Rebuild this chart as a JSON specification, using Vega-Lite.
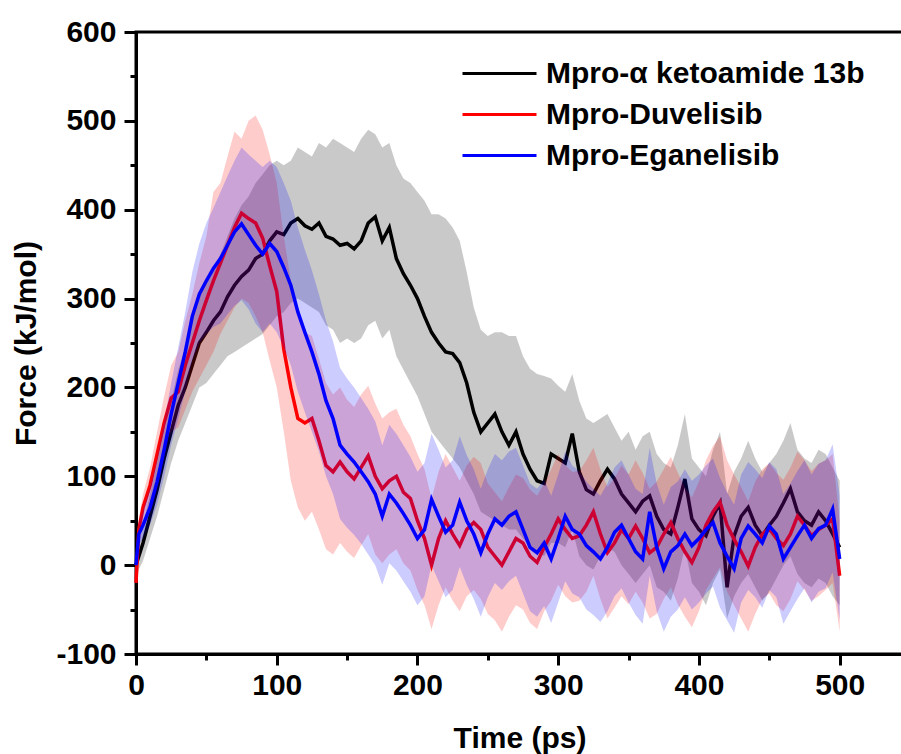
{
  "$schema": "https://vega.github.io/schema/vega-lite/v6.json",
  "width": 767,
  "height": 622,
  "autosize": {"type": "none"},
  "padding": {"left": 136, "top": 32, "right": 0, "bottom": 100},
  "background": "white",
  "config": {
    "view": {"stroke": "black", "strokeWidth": 3},
    "axis": {"domainColor": "black", "domainWidth": 3, "tickColor": "black", "tickWidth": 3, "labelFont": "Liberation Sans", "labelFontWeight": "bold", "labelFontSize": 30, "labelColor": "black", "titleFont": "Liberation Sans", "titleFontWeight": "bold", "titleFontSize": 30, "titleColor": "black", "grid": false, "labelOverlap": false, "labelFlush": false},
    "legend": {"labelFont": "Liberation Sans", "labelFontWeight": "bold", "labelFontSize": 30, "labelColor": "black", "labelLimit": 0}
  },
  "resolve": {"axis": {"x": "independent", "y": "independent"}},
  "datasets": {
    "force": [
      {"s":"Mpro-α ketoamide 13b","t":0,"f":0,"lo":-15,"hi":15},
      {"s":"Mpro-α ketoamide 13b","t":2,"f":10,"lo":-5,"hi":25},
      {"s":"Mpro-α ketoamide 13b","t":5,"f":25,"lo":5,"hi":45},
      {"s":"Mpro-α ketoamide 13b","t":10,"f":55,"lo":30,"hi":80},
      {"s":"Mpro-α ketoamide 13b","t":15,"f":85,"lo":55,"hi":115},
      {"s":"Mpro-α ketoamide 13b","t":20,"f":120,"lo":85,"hi":150},
      {"s":"Mpro-α ketoamide 13b","t":25,"f":150,"lo":115,"hi":185},
      {"s":"Mpro-α ketoamide 13b","t":30,"f":180,"lo":140,"hi":220},
      {"s":"Mpro-α ketoamide 13b","t":35,"f":200,"lo":160,"hi":245},
      {"s":"Mpro-α ketoamide 13b","t":40,"f":225,"lo":180,"hi":275},
      {"s":"Mpro-α ketoamide 13b","t":45,"f":250,"lo":200,"hi":300},
      {"s":"Mpro-α ketoamide 13b","t":50,"f":262,"lo":205,"hi":320},
      {"s":"Mpro-α ketoamide 13b","t":55,"f":275,"lo":215,"hi":335},
      {"s":"Mpro-α ketoamide 13b","t":60,"f":285,"lo":225,"hi":350},
      {"s":"Mpro-α ketoamide 13b","t":65,"f":302,"lo":235,"hi":370},
      {"s":"Mpro-α ketoamide 13b","t":70,"f":315,"lo":240,"hi":390},
      {"s":"Mpro-α ketoamide 13b","t":75,"f":325,"lo":245,"hi":405},
      {"s":"Mpro-α ketoamide 13b","t":80,"f":332,"lo":250,"hi":415},
      {"s":"Mpro-α ketoamide 13b","t":85,"f":345,"lo":255,"hi":430},
      {"s":"Mpro-α ketoamide 13b","t":90,"f":350,"lo":260,"hi":440},
      {"s":"Mpro-α ketoamide 13b","t":95,"f":365,"lo":270,"hi":450},
      {"s":"Mpro-α ketoamide 13b","t":100,"f":375,"lo":280,"hi":455},
      {"s":"Mpro-α ketoamide 13b","t":105,"f":372,"lo":285,"hi":450},
      {"s":"Mpro-α ketoamide 13b","t":110,"f":385,"lo":295,"hi":455},
      {"s":"Mpro-α ketoamide 13b","t":115,"f":390,"lo":300,"hi":470},
      {"s":"Mpro-α ketoamide 13b","t":120,"f":382,"lo":295,"hi":465},
      {"s":"Mpro-α ketoamide 13b","t":125,"f":378,"lo":290,"hi":460},
      {"s":"Mpro-α ketoamide 13b","t":130,"f":385,"lo":285,"hi":475},
      {"s":"Mpro-α ketoamide 13b","t":135,"f":370,"lo":270,"hi":470},
      {"s":"Mpro-α ketoamide 13b","t":140,"f":367,"lo":265,"hi":480},
      {"s":"Mpro-α ketoamide 13b","t":145,"f":360,"lo":250,"hi":475},
      {"s":"Mpro-α ketoamide 13b","t":150,"f":362,"lo":255,"hi":470},
      {"s":"Mpro-α ketoamide 13b","t":155,"f":356,"lo":250,"hi":465},
      {"s":"Mpro-α ketoamide 13b","t":160,"f":365,"lo":255,"hi":480},
      {"s":"Mpro-α ketoamide 13b","t":165,"f":385,"lo":270,"hi":490},
      {"s":"Mpro-α ketoamide 13b","t":170,"f":392,"lo":275,"hi":485},
      {"s":"Mpro-α ketoamide 13b","t":175,"f":365,"lo":255,"hi":470},
      {"s":"Mpro-α ketoamide 13b","t":180,"f":380,"lo":265,"hi":475},
      {"s":"Mpro-α ketoamide 13b","t":185,"f":345,"lo":235,"hi":450},
      {"s":"Mpro-α ketoamide 13b","t":190,"f":328,"lo":220,"hi":435},
      {"s":"Mpro-α ketoamide 13b","t":195,"f":315,"lo":205,"hi":430},
      {"s":"Mpro-α ketoamide 13b","t":200,"f":300,"lo":190,"hi":420},
      {"s":"Mpro-α ketoamide 13b","t":205,"f":280,"lo":170,"hi":410},
      {"s":"Mpro-α ketoamide 13b","t":210,"f":262,"lo":150,"hi":395},
      {"s":"Mpro-α ketoamide 13b","t":215,"f":250,"lo":140,"hi":395},
      {"s":"Mpro-α ketoamide 13b","t":220,"f":240,"lo":130,"hi":390},
      {"s":"Mpro-α ketoamide 13b","t":225,"f":238,"lo":120,"hi":380},
      {"s":"Mpro-α ketoamide 13b","t":230,"f":228,"lo":110,"hi":365},
      {"s":"Mpro-α ketoamide 13b","t":235,"f":205,"lo":95,"hi":330},
      {"s":"Mpro-α ketoamide 13b","t":240,"f":172,"lo":80,"hi":290},
      {"s":"Mpro-α ketoamide 13b","t":245,"f":150,"lo":60,"hi":265},
      {"s":"Mpro-α ketoamide 13b","t":250,"f":160,"lo":55,"hi":258},
      {"s":"Mpro-α ketoamide 13b","t":255,"f":170,"lo":50,"hi":262},
      {"s":"Mpro-α ketoamide 13b","t":260,"f":150,"lo":45,"hi":262},
      {"s":"Mpro-α ketoamide 13b","t":265,"f":135,"lo":40,"hi":258},
      {"s":"Mpro-α ketoamide 13b","t":270,"f":150,"lo":40,"hi":258},
      {"s":"Mpro-α ketoamide 13b","t":275,"f":125,"lo":30,"hi":235},
      {"s":"Mpro-α ketoamide 13b","t":280,"f":108,"lo":20,"hi":221},
      {"s":"Mpro-α ketoamide 13b","t":285,"f":95,"lo":15,"hi":215},
      {"s":"Mpro-α ketoamide 13b","t":290,"f":92,"lo":10,"hi":213},
      {"s":"Mpro-α ketoamide 13b","t":295,"f":125,"lo":25,"hi":210},
      {"s":"Mpro-α ketoamide 13b","t":300,"f":120,"lo":25,"hi":202},
      {"s":"Mpro-α ketoamide 13b","t":305,"f":115,"lo":20,"hi":195},
      {"s":"Mpro-α ketoamide 13b","t":310,"f":148,"lo":40,"hi":215},
      {"s":"Mpro-α ketoamide 13b","t":315,"f":105,"lo":10,"hi":185},
      {"s":"Mpro-α ketoamide 13b","t":320,"f":85,"lo":0,"hi":165},
      {"s":"Mpro-α ketoamide 13b","t":325,"f":80,"lo":-5,"hi":160},
      {"s":"Mpro-α ketoamide 13b","t":330,"f":95,"lo":10,"hi":165},
      {"s":"Mpro-α ketoamide 13b","t":335,"f":108,"lo":20,"hi":170},
      {"s":"Mpro-α ketoamide 13b","t":340,"f":97,"lo":15,"hi":155},
      {"s":"Mpro-α ketoamide 13b","t":345,"f":80,"lo":0,"hi":140},
      {"s":"Mpro-α ketoamide 13b","t":350,"f":70,"lo":-10,"hi":150},
      {"s":"Mpro-α ketoamide 13b","t":355,"f":60,"lo":-20,"hi":130},
      {"s":"Mpro-α ketoamide 13b","t":360,"f":72,"lo":-10,"hi":145},
      {"s":"Mpro-α ketoamide 13b","t":365,"f":78,"lo":0,"hi":150},
      {"s":"Mpro-α ketoamide 13b","t":370,"f":55,"lo":-25,"hi":125},
      {"s":"Mpro-α ketoamide 13b","t":375,"f":40,"lo":-30,"hi":115},
      {"s":"Mpro-α ketoamide 13b","t":380,"f":35,"lo":-40,"hi":110},
      {"s":"Mpro-α ketoamide 13b","t":385,"f":65,"lo":-15,"hi":135},
      {"s":"Mpro-α ketoamide 13b","t":390,"f":97,"lo":20,"hi":170},
      {"s":"Mpro-α ketoamide 13b","t":395,"f":52,"lo":-20,"hi":120},
      {"s":"Mpro-α ketoamide 13b","t":400,"f":40,"lo":-30,"hi":110},
      {"s":"Mpro-α ketoamide 13b","t":405,"f":33,"lo":-45,"hi":100},
      {"s":"Mpro-α ketoamide 13b","t":410,"f":55,"lo":-20,"hi":130},
      {"s":"Mpro-α ketoamide 13b","t":415,"f":70,"lo":-5,"hi":150},
      {"s":"Mpro-α ketoamide 13b","t":420,"f":-25,"lo":-60,"hi":80},
      {"s":"Mpro-α ketoamide 13b","t":425,"f":33,"lo":-35,"hi":105},
      {"s":"Mpro-α ketoamide 13b","t":430,"f":55,"lo":-20,"hi":120},
      {"s":"Mpro-α ketoamide 13b","t":435,"f":65,"lo":-10,"hi":140},
      {"s":"Mpro-α ketoamide 13b","t":440,"f":45,"lo":-25,"hi":120},
      {"s":"Mpro-α ketoamide 13b","t":445,"f":33,"lo":-40,"hi":105},
      {"s":"Mpro-α ketoamide 13b","t":450,"f":45,"lo":-30,"hi":115},
      {"s":"Mpro-α ketoamide 13b","t":455,"f":55,"lo":-15,"hi":125},
      {"s":"Mpro-α ketoamide 13b","t":460,"f":70,"lo":0,"hi":140},
      {"s":"Mpro-α ketoamide 13b","t":465,"f":86,"lo":10,"hi":160},
      {"s":"Mpro-α ketoamide 13b","t":470,"f":60,"lo":-10,"hi":130},
      {"s":"Mpro-α ketoamide 13b","t":475,"f":50,"lo":-20,"hi":120},
      {"s":"Mpro-α ketoamide 13b","t":480,"f":45,"lo":-25,"hi":115},
      {"s":"Mpro-α ketoamide 13b","t":485,"f":60,"lo":-15,"hi":130},
      {"s":"Mpro-α ketoamide 13b","t":490,"f":50,"lo":-20,"hi":125},
      {"s":"Mpro-α ketoamide 13b","t":495,"f":35,"lo":-35,"hi":110},
      {"s":"Mpro-α ketoamide 13b","t":500,"f":20,"lo":-45,"hi":95},
      {"s":"Mpro-Duvelisib","t":0,"f":-20,"lo":-30,"hi":-10},
      {"s":"Mpro-Duvelisib","t":2,"f":40,"lo":28,"hi":52},
      {"s":"Mpro-Duvelisib","t":5,"f":65,"lo":50,"hi":80},
      {"s":"Mpro-Duvelisib","t":10,"f":90,"lo":70,"hi":110},
      {"s":"Mpro-Duvelisib","t":15,"f":125,"lo":100,"hi":150},
      {"s":"Mpro-Duvelisib","t":20,"f":160,"lo":130,"hi":190},
      {"s":"Mpro-Duvelisib","t":25,"f":188,"lo":150,"hi":225},
      {"s":"Mpro-Duvelisib","t":30,"f":195,"lo":155,"hi":240},
      {"s":"Mpro-Duvelisib","t":35,"f":225,"lo":175,"hi":275},
      {"s":"Mpro-Duvelisib","t":40,"f":250,"lo":195,"hi":305},
      {"s":"Mpro-Duvelisib","t":45,"f":275,"lo":210,"hi":340},
      {"s":"Mpro-Duvelisib","t":50,"f":298,"lo":225,"hi":370},
      {"s":"Mpro-Duvelisib","t":55,"f":320,"lo":240,"hi":420},
      {"s":"Mpro-Duvelisib","t":60,"f":340,"lo":260,"hi":430},
      {"s":"Mpro-Duvelisib","t":65,"f":360,"lo":275,"hi":460},
      {"s":"Mpro-Duvelisib","t":70,"f":380,"lo":290,"hi":488},
      {"s":"Mpro-Duvelisib","t":75,"f":396,"lo":300,"hi":480},
      {"s":"Mpro-Duvelisib","t":80,"f":390,"lo":295,"hi":500},
      {"s":"Mpro-Duvelisib","t":85,"f":385,"lo":280,"hi":506},
      {"s":"Mpro-Duvelisib","t":90,"f":368,"lo":262,"hi":490},
      {"s":"Mpro-Duvelisib","t":95,"f":337,"lo":230,"hi":462},
      {"s":"Mpro-Duvelisib","t":100,"f":308,"lo":200,"hi":430},
      {"s":"Mpro-Duvelisib","t":105,"f":243,"lo":150,"hi":370},
      {"s":"Mpro-Duvelisib","t":110,"f":200,"lo":95,"hi":320},
      {"s":"Mpro-Duvelisib","t":115,"f":165,"lo":65,"hi":280},
      {"s":"Mpro-Duvelisib","t":120,"f":160,"lo":50,"hi":262},
      {"s":"Mpro-Duvelisib","t":125,"f":165,"lo":60,"hi":258},
      {"s":"Mpro-Duvelisib","t":130,"f":140,"lo":40,"hi":232},
      {"s":"Mpro-Duvelisib","t":135,"f":112,"lo":18,"hi":205},
      {"s":"Mpro-Duvelisib","t":140,"f":105,"lo":12,"hi":192},
      {"s":"Mpro-Duvelisib","t":145,"f":116,"lo":25,"hi":200},
      {"s":"Mpro-Duvelisib","t":150,"f":105,"lo":15,"hi":186},
      {"s":"Mpro-Duvelisib","t":155,"f":97,"lo":8,"hi":178},
      {"s":"Mpro-Duvelisib","t":160,"f":110,"lo":22,"hi":192},
      {"s":"Mpro-Duvelisib","t":165,"f":123,"lo":35,"hi":202},
      {"s":"Mpro-Duvelisib","t":170,"f":100,"lo":12,"hi":182},
      {"s":"Mpro-Duvelisib","t":175,"f":86,"lo":2,"hi":165},
      {"s":"Mpro-Duvelisib","t":180,"f":95,"lo":12,"hi":172},
      {"s":"Mpro-Duvelisib","t":185,"f":100,"lo":18,"hi":176},
      {"s":"Mpro-Duvelisib","t":190,"f":82,"lo":2,"hi":158},
      {"s":"Mpro-Duvelisib","t":195,"f":75,"lo":-6,"hi":145},
      {"s":"Mpro-Duvelisib","t":200,"f":50,"lo":-28,"hi":125},
      {"s":"Mpro-Duvelisib","t":205,"f":30,"lo":-45,"hi":108},
      {"s":"Mpro-Duvelisib","t":210,"f":0,"lo":-72,"hi":75},
      {"s":"Mpro-Duvelisib","t":215,"f":30,"lo":-45,"hi":105},
      {"s":"Mpro-Duvelisib","t":220,"f":50,"lo":-25,"hi":125},
      {"s":"Mpro-Duvelisib","t":225,"f":35,"lo":-40,"hi":110},
      {"s":"Mpro-Duvelisib","t":230,"f":22,"lo":-52,"hi":95},
      {"s":"Mpro-Duvelisib","t":235,"f":40,"lo":-35,"hi":112},
      {"s":"Mpro-Duvelisib","t":240,"f":48,"lo":-28,"hi":122},
      {"s":"Mpro-Duvelisib","t":245,"f":40,"lo":-38,"hi":115},
      {"s":"Mpro-Duvelisib","t":250,"f":20,"lo":-55,"hi":92},
      {"s":"Mpro-Duvelisib","t":255,"f":10,"lo":-62,"hi":82},
      {"s":"Mpro-Duvelisib","t":260,"f":0,"lo":-75,"hi":72},
      {"s":"Mpro-Duvelisib","t":265,"f":15,"lo":-58,"hi":88},
      {"s":"Mpro-Duvelisib","t":270,"f":30,"lo":-45,"hi":102},
      {"s":"Mpro-Duvelisib","t":275,"f":25,"lo":-50,"hi":98},
      {"s":"Mpro-Duvelisib","t":280,"f":10,"lo":-65,"hi":85},
      {"s":"Mpro-Duvelisib","t":285,"f":3,"lo":-72,"hi":78},
      {"s":"Mpro-Duvelisib","t":290,"f":20,"lo":-52,"hi":92},
      {"s":"Mpro-Duvelisib","t":295,"f":35,"lo":-40,"hi":108},
      {"s":"Mpro-Duvelisib","t":300,"f":52,"lo":-22,"hi":125},
      {"s":"Mpro-Duvelisib","t":305,"f":40,"lo":-35,"hi":112},
      {"s":"Mpro-Duvelisib","t":310,"f":30,"lo":-42,"hi":105},
      {"s":"Mpro-Duvelisib","t":315,"f":33,"lo":-40,"hi":106},
      {"s":"Mpro-Duvelisib","t":320,"f":45,"lo":-30,"hi":118},
      {"s":"Mpro-Duvelisib","t":325,"f":60,"lo":-12,"hi":132},
      {"s":"Mpro-Duvelisib","t":330,"f":35,"lo":-38,"hi":108},
      {"s":"Mpro-Duvelisib","t":335,"f":14,"lo":-60,"hi":88},
      {"s":"Mpro-Duvelisib","t":340,"f":25,"lo":-48,"hi":98},
      {"s":"Mpro-Duvelisib","t":345,"f":40,"lo":-35,"hi":112},
      {"s":"Mpro-Duvelisib","t":350,"f":30,"lo":-44,"hi":102},
      {"s":"Mpro-Duvelisib","t":355,"f":44,"lo":-30,"hi":118},
      {"s":"Mpro-Duvelisib","t":360,"f":30,"lo":-42,"hi":104},
      {"s":"Mpro-Duvelisib","t":365,"f":14,"lo":-60,"hi":86},
      {"s":"Mpro-Duvelisib","t":370,"f":20,"lo":-55,"hi":94},
      {"s":"Mpro-Duvelisib","t":375,"f":35,"lo":-38,"hi":108},
      {"s":"Mpro-Duvelisib","t":380,"f":48,"lo":-25,"hi":122},
      {"s":"Mpro-Duvelisib","t":385,"f":30,"lo":-44,"hi":104},
      {"s":"Mpro-Duvelisib","t":390,"f":15,"lo":-58,"hi":88},
      {"s":"Mpro-Duvelisib","t":395,"f":3,"lo":-70,"hi":76},
      {"s":"Mpro-Duvelisib","t":400,"f":20,"lo":-52,"hi":94},
      {"s":"Mpro-Duvelisib","t":405,"f":45,"lo":-28,"hi":118},
      {"s":"Mpro-Duvelisib","t":410,"f":60,"lo":-15,"hi":134},
      {"s":"Mpro-Duvelisib","t":415,"f":71,"lo":-2,"hi":145},
      {"s":"Mpro-Duvelisib","t":420,"f":45,"lo":-30,"hi":118},
      {"s":"Mpro-Duvelisib","t":425,"f":29,"lo":-45,"hi":102},
      {"s":"Mpro-Duvelisib","t":430,"f":15,"lo":-60,"hi":88},
      {"s":"Mpro-Duvelisib","t":435,"f":-1,"lo":-75,"hi":72},
      {"s":"Mpro-Duvelisib","t":440,"f":20,"lo":-55,"hi":94},
      {"s":"Mpro-Duvelisib","t":445,"f":35,"lo":-38,"hi":108},
      {"s":"Mpro-Duvelisib","t":450,"f":41,"lo":-32,"hi":115},
      {"s":"Mpro-Duvelisib","t":455,"f":30,"lo":-45,"hi":104},
      {"s":"Mpro-Duvelisib","t":460,"f":22,"lo":-52,"hi":96},
      {"s":"Mpro-Duvelisib","t":465,"f":35,"lo":-38,"hi":110},
      {"s":"Mpro-Duvelisib","t":470,"f":55,"lo":-18,"hi":128},
      {"s":"Mpro-Duvelisib","t":475,"f":45,"lo":-28,"hi":118},
      {"s":"Mpro-Duvelisib","t":480,"f":33,"lo":-40,"hi":106},
      {"s":"Mpro-Duvelisib","t":485,"f":40,"lo":-35,"hi":114},
      {"s":"Mpro-Duvelisib","t":490,"f":45,"lo":-28,"hi":118},
      {"s":"Mpro-Duvelisib","t":495,"f":52,"lo":-20,"hi":125},
      {"s":"Mpro-Duvelisib","t":500,"f":-12,"lo":-75,"hi":50},
      {"s":"Mpro-Eganelisib","t":0,"f":0,"lo":-10,"hi":10},
      {"s":"Mpro-Eganelisib","t":2,"f":35,"lo":22,"hi":48},
      {"s":"Mpro-Eganelisib","t":5,"f":45,"lo":30,"hi":62},
      {"s":"Mpro-Eganelisib","t":10,"f":65,"lo":45,"hi":88},
      {"s":"Mpro-Eganelisib","t":15,"f":94,"lo":68,"hi":120},
      {"s":"Mpro-Eganelisib","t":20,"f":130,"lo":100,"hi":162},
      {"s":"Mpro-Eganelisib","t":25,"f":170,"lo":135,"hi":205},
      {"s":"Mpro-Eganelisib","t":30,"f":205,"lo":165,"hi":245},
      {"s":"Mpro-Eganelisib","t":35,"f":240,"lo":195,"hi":285},
      {"s":"Mpro-Eganelisib","t":40,"f":280,"lo":230,"hi":330},
      {"s":"Mpro-Eganelisib","t":45,"f":305,"lo":250,"hi":362},
      {"s":"Mpro-Eganelisib","t":50,"f":320,"lo":260,"hi":385},
      {"s":"Mpro-Eganelisib","t":55,"f":334,"lo":268,"hi":402},
      {"s":"Mpro-Eganelisib","t":60,"f":345,"lo":272,"hi":420},
      {"s":"Mpro-Eganelisib","t":65,"f":360,"lo":282,"hi":438},
      {"s":"Mpro-Eganelisib","t":70,"f":375,"lo":292,"hi":455},
      {"s":"Mpro-Eganelisib","t":75,"f":384,"lo":298,"hi":470},
      {"s":"Mpro-Eganelisib","t":80,"f":372,"lo":288,"hi":462},
      {"s":"Mpro-Eganelisib","t":85,"f":360,"lo":272,"hi":455},
      {"s":"Mpro-Eganelisib","t":90,"f":350,"lo":262,"hi":448},
      {"s":"Mpro-Eganelisib","t":95,"f":362,"lo":272,"hi":455},
      {"s":"Mpro-Eganelisib","t":100,"f":353,"lo":262,"hi":448},
      {"s":"Mpro-Eganelisib","t":105,"f":335,"lo":245,"hi":430},
      {"s":"Mpro-Eganelisib","t":110,"f":315,"lo":225,"hi":410},
      {"s":"Mpro-Eganelisib","t":115,"f":285,"lo":195,"hi":380},
      {"s":"Mpro-Eganelisib","t":120,"f":262,"lo":172,"hi":355},
      {"s":"Mpro-Eganelisib","t":125,"f":240,"lo":150,"hi":332},
      {"s":"Mpro-Eganelisib","t":130,"f":215,"lo":128,"hi":305},
      {"s":"Mpro-Eganelisib","t":135,"f":185,"lo":100,"hi":275},
      {"s":"Mpro-Eganelisib","t":140,"f":165,"lo":80,"hi":252},
      {"s":"Mpro-Eganelisib","t":145,"f":135,"lo":52,"hi":222},
      {"s":"Mpro-Eganelisib","t":150,"f":125,"lo":42,"hi":210},
      {"s":"Mpro-Eganelisib","t":155,"f":116,"lo":34,"hi":200},
      {"s":"Mpro-Eganelisib","t":160,"f":105,"lo":24,"hi":188},
      {"s":"Mpro-Eganelisib","t":165,"f":94,"lo":12,"hi":176},
      {"s":"Mpro-Eganelisib","t":170,"f":80,"lo":0,"hi":162},
      {"s":"Mpro-Eganelisib","t":175,"f":55,"lo":-22,"hi":135},
      {"s":"Mpro-Eganelisib","t":180,"f":80,"lo":2,"hi":158},
      {"s":"Mpro-Eganelisib","t":185,"f":70,"lo":-6,"hi":148},
      {"s":"Mpro-Eganelisib","t":190,"f":58,"lo":-18,"hi":135},
      {"s":"Mpro-Eganelisib","t":195,"f":45,"lo":-30,"hi":122},
      {"s":"Mpro-Eganelisib","t":200,"f":30,"lo":-45,"hi":105},
      {"s":"Mpro-Eganelisib","t":205,"f":40,"lo":-35,"hi":115},
      {"s":"Mpro-Eganelisib","t":210,"f":74,"lo":0,"hi":148},
      {"s":"Mpro-Eganelisib","t":215,"f":55,"lo":-18,"hi":130},
      {"s":"Mpro-Eganelisib","t":220,"f":37,"lo":-36,"hi":110},
      {"s":"Mpro-Eganelisib","t":225,"f":45,"lo":-28,"hi":118},
      {"s":"Mpro-Eganelisib","t":230,"f":71,"lo":-2,"hi":145},
      {"s":"Mpro-Eganelisib","t":235,"f":50,"lo":-22,"hi":124},
      {"s":"Mpro-Eganelisib","t":240,"f":35,"lo":-38,"hi":108},
      {"s":"Mpro-Eganelisib","t":245,"f":14,"lo":-58,"hi":86},
      {"s":"Mpro-Eganelisib","t":250,"f":35,"lo":-36,"hi":108},
      {"s":"Mpro-Eganelisib","t":255,"f":52,"lo":-20,"hi":125},
      {"s":"Mpro-Eganelisib","t":260,"f":45,"lo":-28,"hi":118},
      {"s":"Mpro-Eganelisib","t":265,"f":55,"lo":-18,"hi":128},
      {"s":"Mpro-Eganelisib","t":270,"f":60,"lo":-12,"hi":132},
      {"s":"Mpro-Eganelisib","t":275,"f":40,"lo":-32,"hi":112},
      {"s":"Mpro-Eganelisib","t":280,"f":20,"lo":-52,"hi":92},
      {"s":"Mpro-Eganelisib","t":285,"f":14,"lo":-58,"hi":86},
      {"s":"Mpro-Eganelisib","t":290,"f":25,"lo":-46,"hi":96},
      {"s":"Mpro-Eganelisib","t":295,"f":7,"lo":-65,"hi":78},
      {"s":"Mpro-Eganelisib","t":300,"f":30,"lo":-42,"hi":102},
      {"s":"Mpro-Eganelisib","t":305,"f":55,"lo":-18,"hi":128},
      {"s":"Mpro-Eganelisib","t":310,"f":40,"lo":-32,"hi":112},
      {"s":"Mpro-Eganelisib","t":315,"f":35,"lo":-36,"hi":106},
      {"s":"Mpro-Eganelisib","t":320,"f":22,"lo":-50,"hi":94},
      {"s":"Mpro-Eganelisib","t":325,"f":15,"lo":-56,"hi":86},
      {"s":"Mpro-Eganelisib","t":330,"f":7,"lo":-64,"hi":78},
      {"s":"Mpro-Eganelisib","t":335,"f":20,"lo":-52,"hi":92},
      {"s":"Mpro-Eganelisib","t":340,"f":37,"lo":-35,"hi":110},
      {"s":"Mpro-Eganelisib","t":345,"f":45,"lo":-26,"hi":118},
      {"s":"Mpro-Eganelisib","t":350,"f":30,"lo":-42,"hi":102},
      {"s":"Mpro-Eganelisib","t":355,"f":15,"lo":-56,"hi":86},
      {"s":"Mpro-Eganelisib","t":360,"f":7,"lo":-66,"hi":80},
      {"s":"Mpro-Eganelisib","t":365,"f":60,"lo":-12,"hi":132},
      {"s":"Mpro-Eganelisib","t":370,"f":20,"lo":-52,"hi":92},
      {"s":"Mpro-Eganelisib","t":375,"f":-4,"lo":-75,"hi":68},
      {"s":"Mpro-Eganelisib","t":380,"f":15,"lo":-58,"hi":88},
      {"s":"Mpro-Eganelisib","t":385,"f":22,"lo":-50,"hi":94},
      {"s":"Mpro-Eganelisib","t":390,"f":35,"lo":-36,"hi":108},
      {"s":"Mpro-Eganelisib","t":395,"f":22,"lo":-50,"hi":95},
      {"s":"Mpro-Eganelisib","t":400,"f":30,"lo":-42,"hi":102},
      {"s":"Mpro-Eganelisib","t":405,"f":40,"lo":-32,"hi":112},
      {"s":"Mpro-Eganelisib","t":410,"f":48,"lo":-24,"hi":120},
      {"s":"Mpro-Eganelisib","t":415,"f":25,"lo":-48,"hi":98},
      {"s":"Mpro-Eganelisib","t":420,"f":10,"lo":-62,"hi":82},
      {"s":"Mpro-Eganelisib","t":425,"f":-4,"lo":-76,"hi":68},
      {"s":"Mpro-Eganelisib","t":430,"f":30,"lo":-42,"hi":102},
      {"s":"Mpro-Eganelisib","t":435,"f":44,"lo":-28,"hi":116},
      {"s":"Mpro-Eganelisib","t":440,"f":35,"lo":-36,"hi":108},
      {"s":"Mpro-Eganelisib","t":445,"f":25,"lo":-48,"hi":98},
      {"s":"Mpro-Eganelisib","t":450,"f":44,"lo":-28,"hi":116},
      {"s":"Mpro-Eganelisib","t":455,"f":35,"lo":-36,"hi":108},
      {"s":"Mpro-Eganelisib","t":460,"f":7,"lo":-66,"hi":80},
      {"s":"Mpro-Eganelisib","t":465,"f":20,"lo":-52,"hi":92},
      {"s":"Mpro-Eganelisib","t":470,"f":33,"lo":-38,"hi":106},
      {"s":"Mpro-Eganelisib","t":475,"f":45,"lo":-26,"hi":118},
      {"s":"Mpro-Eganelisib","t":480,"f":30,"lo":-42,"hi":102},
      {"s":"Mpro-Eganelisib","t":485,"f":41,"lo":-30,"hi":114},
      {"s":"Mpro-Eganelisib","t":490,"f":45,"lo":-26,"hi":118},
      {"s":"Mpro-Eganelisib","t":495,"f":63,"lo":-8,"hi":136},
      {"s":"Mpro-Eganelisib","t":500,"f":7,"lo":-62,"hi":78}
    ]
  },
  "data": {"name": "force"},
  "layer": [
    {
      "transform": [{"filter": "datum.s === 'Mpro-α ketoamide 13b'"}],
      "mark": {"type": "area", "color": "#000000", "fillOpacity": 0.21},
      "encoding": {
        "x": {
          "field": "t", "type": "quantitative", "title": "Time (ps)",
          "scale": {"domain": [0, 545], "nice": false, "zero": false},
          "axis": {"orient": "bottom", "values": [0, 100, 200, 300, 400, 500], "labelExpr": "'' + datum.value", "tickSize": 11, "labelPadding": 5, "titlePadding": 23}
        },
        "y": {"field": "lo", "type": "quantitative", "title": "Force (kJ/mol)",
          "scale": {"domain": [-100, 600], "nice": false, "zero": false},
          "axis": {"orient": "left", "values": [-100, 0, 100, 200, 300, 400, 500, 600], "labelExpr": "'' + datum.value", "tickSize": 12, "labelPadding": 8, "titlePadding": 14}
        },
        "y2": {"field": "hi"}
      }
    },
    {
      "transform": [{"filter": "datum.s === 'Mpro-α ketoamide 13b'"}],
      "mark": {"type": "line", "strokeWidth": 3.5},
      "encoding": {
        "x": {"field": "t", "type": "quantitative", "title": null,
          "axis": {"orient": "bottom", "values": [50, 150, 250, 350, 450], "labels": false, "domain": false, "tickSize": 6}
        },
        "y": {"field": "f", "type": "quantitative", "title": null,
          "axis": {"orient": "left", "values": [-50, 50, 150, 250, 350, 450, 550], "labels": false, "domain": false, "tickSize": 6}
        },
        "color": {"field": "s", "type": "nominal",
          "scale": {"domain": ["Mpro-α ketoamide 13b", "Mpro-Duvelisib", "Mpro-Eganelisib"], "range": ["#000000", "#ff0000", "#0000ff"]},
          "legend": {"title": null, "orient": "none", "legendX": 347, "legendY": 25, "symbolType": "M-2.467,0H2.467", "symbolSize": 900, "symbolStrokeWidth": 3, "symbolFillColor": "transparent", "labelOffset": 30, "rowPadding": 9}
        }
      }
    },
    {
      "transform": [{"filter": "datum.s === 'Mpro-Duvelisib'"}],
      "mark": {"type": "area", "color": "#ff0000", "fillOpacity": 0.2},
      "encoding": {
        "x": {"field": "t", "type": "quantitative", "axis": null},
        "y": {"field": "lo", "type": "quantitative", "axis": null},
        "y2": {"field": "hi"}
      }
    },
    {
      "transform": [{"filter": "datum.s === 'Mpro-Duvelisib'"}],
      "mark": {"type": "line", "strokeWidth": 3.5},
      "encoding": {
        "x": {"field": "t", "type": "quantitative", "axis": null},
        "y": {"field": "f", "type": "quantitative", "axis": null},
        "color": {"field": "s", "type": "nominal"}
      }
    },
    {
      "transform": [{"filter": "datum.s === 'Mpro-Eganelisib'"}],
      "mark": {"type": "area", "color": "#0000ff", "fillOpacity": 0.2},
      "encoding": {
        "x": {"field": "t", "type": "quantitative", "axis": null},
        "y": {"field": "lo", "type": "quantitative", "axis": null},
        "y2": {"field": "hi"}
      }
    },
    {
      "transform": [{"filter": "datum.s === 'Mpro-Eganelisib'"}],
      "mark": {"type": "line", "strokeWidth": 3.5},
      "encoding": {
        "x": {"field": "t", "type": "quantitative", "axis": null},
        "y": {"field": "f", "type": "quantitative", "axis": null},
        "color": {"field": "s", "type": "nominal"}
      }
    }
  ]
}
